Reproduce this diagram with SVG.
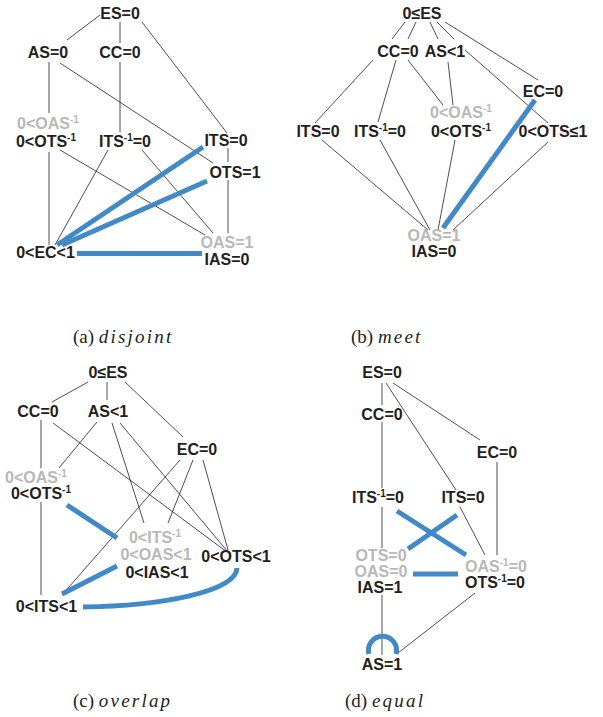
<svg xmlns="http://www.w3.org/2000/svg" width="603" height="717" viewBox="0 0 603 717">
<style>
text{font-family:"Liberation Sans",Arial,sans-serif;font-weight:bold;font-size:16px;text-anchor:middle;fill:#231f20}
text.g{fill:#b8b8b8}
tspan.s{font-size:10px}
.e line,.e path{stroke:#231f20;stroke-width:0.8;fill:none}
.e .b{stroke:#4189c7;stroke-width:5;fill:none}
text.cap{font-family:"Liberation Serif","Times New Roman",serif;font-weight:normal;font-size:19px;text-anchor:start}
tspan.w{font-style:italic;letter-spacing:2.2px}
</style>
<rect width="603" height="717" fill="#fff"/>
<g id="connectors" class="e">
<!-- (a) -->
<line x1="100" y1="15" x2="67" y2="40"/>
<line x1="120" y1="22" x2="120" y2="43"/>
<line x1="142" y1="22" x2="227" y2="133"/>
<line x1="49" y1="62" x2="49" y2="113"/>
<line x1="60" y1="63" x2="213" y2="163"/>
<line x1="120" y1="62" x2="120" y2="132"/>
<line x1="49" y1="152" x2="49" y2="245"/>
<line x1="60" y1="150" x2="205" y2="235"/>
<line x1="108" y1="150" x2="55" y2="245"/>
<line x1="142" y1="150" x2="213" y2="233"/>
<line x1="228" y1="148" x2="228" y2="162"/>
<line x1="228" y1="180" x2="228" y2="233"/>
<line class="b" x1="57" y1="245" x2="203" y2="147"/>
<line class="b" x1="62" y1="245" x2="207" y2="181"/>
<line class="b" x1="77" y1="253.5" x2="202" y2="253.5"/>
<!-- (b) -->
<line x1="405" y1="22" x2="392" y2="39"/>
<line x1="416" y1="22" x2="408" y2="39"/>
<line x1="430" y1="22" x2="438" y2="39"/>
<line x1="437" y1="22" x2="454" y2="39"/>
<line x1="445" y1="22" x2="538" y2="80"/>
<line x1="373" y1="60" x2="315" y2="123"/>
<line x1="396" y1="60" x2="378" y2="122"/>
<line x1="408" y1="60" x2="443" y2="105"/>
<line x1="448" y1="62" x2="453" y2="105"/>
<line x1="465" y1="50" x2="548" y2="123"/>
<line x1="322" y1="140" x2="428" y2="230"/>
<line x1="380" y1="140" x2="430" y2="230"/>
<line x1="455" y1="140" x2="438" y2="230"/>
<line x1="548" y1="142" x2="453" y2="230"/>
<line class="b" x1="535" y1="100" x2="443" y2="228"/>
<!-- (c) -->
<line x1="88" y1="382" x2="52" y2="402"/>
<line x1="107" y1="382" x2="107" y2="400"/>
<line x1="125" y1="382" x2="183" y2="437"/>
<line x1="41" y1="420" x2="41" y2="468"/>
<line x1="41" y1="502" x2="41" y2="595"/>
<line x1="53" y1="423" x2="227" y2="552"/>
<line x1="97" y1="422" x2="59" y2="468"/>
<line x1="112" y1="423" x2="144" y2="523"/>
<line x1="120" y1="423" x2="228" y2="552"/>
<line x1="180" y1="460" x2="62" y2="595"/>
<line x1="193" y1="460" x2="168" y2="523"/>
<line x1="203" y1="460" x2="228" y2="550"/>
<line class="b" x1="67" y1="505" x2="117" y2="538"/>
<line class="b" x1="62" y1="594" x2="117" y2="566"/>
<path class="b" d="M237 568 C236 592 160 606 83 607"/>
<!-- (d) -->
<line x1="382" y1="383" x2="382" y2="405"/>
<line x1="382" y1="422" x2="382" y2="488"/>
<line x1="382" y1="507" x2="382" y2="548"/>
<line x1="382" y1="595" x2="382" y2="655"/>
<line x1="386" y1="383" x2="456" y2="490"/>
<line x1="393" y1="383" x2="480" y2="440"/>
<line x1="497" y1="462" x2="497" y2="555"/>
<line x1="460" y1="507" x2="485" y2="555"/>
<line x1="475" y1="593" x2="398" y2="653"/>
<line class="b" x1="397" y1="511" x2="466" y2="555"/>
<line class="b" x1="457" y1="515" x2="408" y2="549"/>
<line class="b" x1="413" y1="574" x2="458" y2="574"/>
<path class="b" d="M369 654 A14 14 0 1 1 396 654"/>
</g>
<!-- panel a nodes -->
<g id="a-ES0"><text x="120" y="19">ES=0</text></g>
<g id="a-AS0"><text x="48" y="58">AS=0</text></g>
<g id="a-CC0"><text x="120" y="58">CC=0</text></g>
<g id="a-OASinv"><text class="g" x="48" y="129">0&lt;OAS<tspan class="s" dy="-6">-1</tspan></text></g>
<g id="a-OTSinv"><text x="46" y="147">0&lt;OTS<tspan class="s" dy="-6">-1</tspan></text></g>
<g id="a-ITSinv0"><text x="125" y="147">ITS<tspan class="s" dy="-6">-1</tspan><tspan dy="6">=0</tspan></text></g>
<g id="a-ITS0"><text x="226" y="146">ITS=0</text></g>
<g id="a-OTS1"><text x="235" y="178">OTS=1</text></g>
<g id="a-OAS1"><text class="g" x="227" y="248">OAS=1</text></g>
<g id="a-IAS0"><text x="227" y="265">IAS=0</text></g>
<g id="a-EC"><text x="45.5" y="258">0&lt;EC&lt;1</text></g>
<!-- panel b nodes -->
<g id="b-ES"><text x="422" y="19">0≤ES</text></g>
<g id="b-CC0"><text x="398" y="57">CC=0</text></g>
<g id="b-AS"><text x="445" y="57">AS&lt;1</text></g>
<g id="b-EC0"><text x="543" y="97">EC=0</text></g>
<g id="b-OASinv"><text class="g" x="461" y="118">0&lt;OAS<tspan class="s" dy="-6">-1</tspan></text></g>
<g id="b-OTSinv"><text x="461" y="137">0&lt;OTS<tspan class="s" dy="-6">-1</tspan></text></g>
<g id="b-ITS0"><text x="318" y="137">ITS=0</text></g>
<g id="b-ITSinv0"><text x="380" y="137">ITS<tspan class="s" dy="-6">-1</tspan><tspan dy="6">=0</tspan></text></g>
<g id="b-OTS"><text x="553" y="137">0&lt;OTS≤1</text></g>
<g id="b-OAS1"><text class="g" x="434" y="241">OAS=1</text></g>
<g id="b-IAS0"><text x="434" y="257">IAS=0</text></g>
<!-- panel c nodes -->
<g id="c-ES"><text x="108" y="378">0≤ES</text></g>
<g id="c-CC0"><text x="38" y="417">CC=0</text></g>
<g id="c-AS"><text x="108" y="417">AS&lt;1</text></g>
<g id="c-EC0"><text x="197" y="455">EC=0</text></g>
<g id="c-OASinv"><text class="g" x="36" y="483">0&lt;OAS<tspan class="s" dy="-6">-1</tspan></text></g>
<g id="c-OTSinv"><text x="41" y="499">0&lt;OTS<tspan class="s" dy="-6">-1</tspan></text></g>
<g id="c-ITSinv"><text class="g" x="155" y="543">0&lt;ITS<tspan class="s" dy="-6">-1</tspan></text></g>
<g id="c-OAS"><text class="g" x="156" y="560">0&lt;OAS&lt;1</text></g>
<g id="c-IAS"><text x="157" y="578">0&lt;IAS&lt;1</text></g>
<g id="c-OTS"><text x="236" y="562">0&lt;OTS&lt;1</text></g>
<g id="c-ITS"><text x="46.5" y="612">0&lt;ITS&lt;1</text></g>
<!-- panel d nodes -->
<g id="d-ES0"><text x="382" y="378">ES=0</text></g>
<g id="d-CC0"><text x="382" y="420">CC=0</text></g>
<g id="d-EC0"><text x="497" y="458">EC=0</text></g>
<g id="d-ITSinv0"><text x="378" y="503">ITS<tspan class="s" dy="-6">-1</tspan><tspan dy="6">=0</tspan></text></g>
<g id="d-ITS0"><text x="463" y="503">ITS=0</text></g>
<g id="d-OTS0"><text class="g" x="381" y="561">OTS=0</text></g>
<g id="d-OAS0"><text class="g" x="381" y="577">OAS=0</text></g>
<g id="d-IAS1"><text x="380" y="593">IAS=1</text></g>
<g id="d-OASinv0"><text class="g" x="496" y="572">OAS<tspan class="s" dy="-6">-1</tspan><tspan dy="6">=0</tspan></text></g>
<g id="d-OTSinv0"><text x="495" y="588">OTS<tspan class="s" dy="-6">-1</tspan><tspan dy="6">=0</tspan></text></g>
<g id="d-AS1"><text x="382" y="670">AS=1</text></g>
<!-- captions -->
<text class="cap" x="73" y="343">(a) <tspan class="w">disjoint</tspan></text>
<text class="cap" x="351" y="343">(b) <tspan class="w">meet</tspan></text>
<text class="cap" x="73" y="707">(c) <tspan class="w">overlap</tspan></text>
<text class="cap" x="345" y="707">(d) <tspan class="w">equal</tspan></text>
</svg>
